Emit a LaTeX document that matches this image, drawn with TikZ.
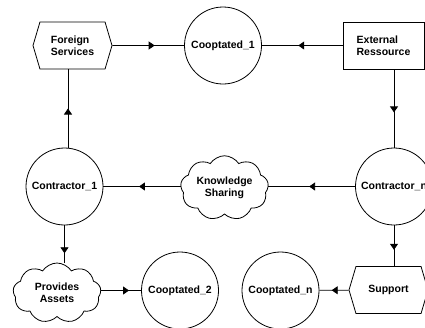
\documentclass[tikz,border=0pt]{standalone}
\usepackage{fontspec}
\setmainfont{Liberation Sans}
\usetikzlibrary{shapes.symbols,shapes.geometric,decorations.markings,arrows.meta}

\begin{document}
\begin{tikzpicture}[x=1pt,y=-1pt,
  every node/.style={font=\fontsize{10.5}{12}\selectfont\bfseries, draw, line width=0.8pt, inner sep=0pt},
  circ/.style={circle, minimum size=77pt},
  hexa/.style={signal, signal to=west and east, signal pointer angle=147,
               minimum width=79pt, minimum height=47pt, align=left},
  box/.style={rectangle, minimum width=81pt, minimum height=47pt, align=left},
  puff/.style={cloud, cloud puffs=9, cloud puff arc=115, aspect=1.5,
               minimum width=88pt, minimum height=60pt, align=center},
  link/.style={line width=0.8pt},
  midarrow/.style={link, postaction={decorate},
    decoration={markings, mark=at position #1 with {\arrow{Triangle[length=6pt,width=8pt]}}}}
]
\useasboundingbox (0,0) rectangle (425,327);
\clip (0,0) rectangle (425,327);

% top row
\node[hexa] (fs) at (72.5,45.5) {Foreign\\Services};
\node[circ] (c1) at (223,45.5) {Cooptated\_1};
\node[box]  (er) at (383.5,45.5) {External\\Ressource};

% middle row
\node[circ] (ct1) at (64.5,186.5) {Contractor\_1};
\node[puff] (ks)  at (224.5,188) {Knowledge\\Sharing};
\node[circ] (cn)  at (394,186.5) {Contractor\_n};

% bottom row
\node[puff] (pa)  at (57,293) {Provides\\Assets};
\node[circ] (c2)  at (180,290.5) {Cooptated\_2};
\node[circ] (cnn) at (280.5,290.5) {Cooptated\_n};
\node[hexa] (sp)  at (388.5,290) {Support};

% connectors
\draw[midarrow=0.59] (fs) -- (c1);
\draw[midarrow=0.55] (er) -- (c1);
\draw[midarrow=0.53] (cn -| cn.west) -- (cn -| ks.east);
\draw[midarrow=0.54] (ct1 -| ks.west) -- (ct1 -| ct1.east);
\draw[midarrow=0.5] ([xshift=3.5pt]ct1.north) -- ([xshift=3.5pt]ct1.north |- fs.south);
\draw[midarrow=0.55] (er.south -| cn) -- (cn.north);
\draw[midarrow=0.75] (ct1.south) -- (ct1.south |- pa.north);
\draw[midarrow=0.7] (c2 -| pa.east) -- (c2);
\draw[midarrow=0.6] (cn.south) -- (cn.south |- sp.north);
\draw[midarrow=0.58] (sp) -- (cnn);
\end{tikzpicture}
\end{document}
